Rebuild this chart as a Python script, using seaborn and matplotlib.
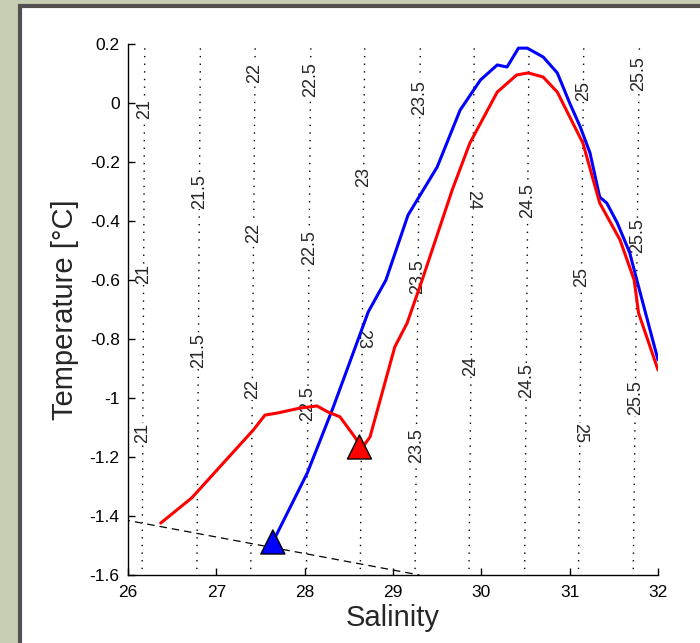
import numpy as np
import pandas as pd
import matplotlib
matplotlib.use("Agg")
import matplotlib.pyplot as plt
import seaborn as sns
from matplotlib.patches import Rectangle

# ---------------------------------------------------------------------------
# Data
# ---------------------------------------------------------------------------

red_sal = [26.37, 26.72, 27.42, 27.55, 27.69, 27.95, 28.14, 28.26, 28.40, 28.55,
           28.65, 28.74, 29.02, 29.16, 29.33, 29.67, 29.87, 30.18, 30.40, 30.53,
           30.70, 30.86, 31.15, 31.34, 31.57, 31.73, 31.78, 32.00]
red_temp = [-1.424, -1.339, -1.108, -1.058, -1.051, -1.034, -1.027, -1.047, -1.064, -1.125,
            -1.169, -1.132, -0.827, -0.746, -0.600, -0.295, -0.136, 0.037, 0.095, 0.102,
            0.088, 0.037, -0.136, -0.339, -0.464, -0.600, -0.712, -0.905]

blue_sal = [27.64, 28.03, 28.32, 28.72, 28.92, 29.17, 29.50, 29.76, 29.99, 30.18,
            30.29, 30.32, 30.42, 30.52, 30.70, 30.86, 31.00, 31.12, 31.23, 31.34,
            31.42, 31.54, 31.68, 31.76, 32.00]
blue_temp = [-1.488, -1.254, -1.034, -0.708, -0.600, -0.380, -0.217, -0.024, 0.078, 0.129,
             0.122, 0.136, 0.186, 0.186, 0.156, 0.102, 0.000, -0.081, -0.169, -0.319,
             -0.339, -0.407, -0.508, -0.600, -0.871]

# start points (triangles)
start_sal = [27.64, 28.62]
start_temp = [-1.488, -1.166]
start_name = ["blue", "red"]

# freezing line
freeze_sal = [25.8, 29.3]
freeze_temp = [-1.404, -1.600]

# isopycnals: sigma level, salinity at top (T=0.2) and bottom (T=-1.6)
sigma_levels = [21, 21.5, 22, 22.5, 23, 23.5, 24, 24.5, 25, 25.5]
sigma_sal_top = [26.19, 26.82, 27.44, 28.07, 28.68, 29.31, 29.92, 30.54, 31.16, 31.79]
sigma_sal_bot = [26.16, 26.78, 27.39, 28.02, 28.63, 29.25, 29.86, 30.49, 31.10, 31.72]

# contour labels: level, temperature position, rotation
label_level = [21, 21, 21, 21.5, 21.5, 22, 22, 22, 22.5, 22.5, 22.5, 23, 23,
               23.5, 23.5, 23.5, 24, 24, 24.5, 24.5, 25, 25, 25, 25.5, 25.5, 25.5]
label_temp = [-0.02, -0.58, -1.12, -0.30, -0.84, 0.10, -0.44, -0.97, 0.08, -0.49, -1.02,
              -0.25, -0.80, 0.02, -0.59, -1.16, -0.33, -0.89, -0.33, -0.94, 0.04, -0.59, -1.12,
              0.10, -0.45, -1.00]
label_rot = [90, 90, 90, 90, 90, 90, 90, 90, 90, 90, 90, 90, 270,
             90, 90, 90, 270, 90, 90, 90, 90, 90, 270, 90, 90, 90]

# ---------------------------------------------------------------------------
# Plot
# ---------------------------------------------------------------------------

sns.set_style("white")
plt.rcParams["font.family"] = ["Liberation Sans", "DejaVu Sans"]

fig = plt.figure(figsize=(7.0, 6.43), dpi=100, facecolor="#c8ceb4")
panel = Rectangle((20 / 700, -0.01), 1.0, 1 - 6 / 643 + 0.01,
                  transform=fig.transFigure, facecolor="white",
                  edgecolor="#555050", linewidth=3)
panel.set_zorder(-10)
fig.patches.append(panel)
ax = fig.add_axes([128 / 700, 1 - 575 / 643, 530 / 700, 531 / 643])
ax.set_facecolor("white")

def sal_at(level, temp):
    i = sigma_levels.index(level)
    frac = (temp - (-1.6)) / 1.8
    return sigma_sal_bot[i] + frac * (sigma_sal_top[i] - sigma_sal_bot[i])

for i, lev in enumerate(sigma_levels):
    ax.plot([sigma_sal_bot[i], sigma_sal_top[i]], [-1.58, 0.2], color="black",
            linestyle=(0, (1, 4.5)), linewidth=1.0, zorder=1)

for lev, t, rot in zip(label_level, label_temp, label_rot):
    txt = f"{lev:g}"
    ax.text(sal_at(lev, t), t, txt, rotation=rot, fontsize=13, ha="center", va="center",
            zorder=2, bbox=dict(facecolor="white", edgecolor="none", pad=0.2))

ax.plot(freeze_sal, freeze_temp, color="black", linestyle=(0, (6, 4)), linewidth=0.9, zorder=3)

red_df = pd.DataFrame({"sal": red_sal, "temp": red_temp})
blue_df = pd.DataFrame({"sal": blue_sal, "temp": blue_temp})
sns.lineplot(data=blue_df, x="sal", y="temp", sort=False, color="blue", linewidth=2.2,
             ax=ax, zorder=4)
sns.lineplot(data=red_df, x="sal", y="temp", sort=False, color="red", linewidth=2.2,
             ax=ax, zorder=5)

start_df = pd.DataFrame({"sal": start_sal, "temp": start_temp, "name": start_name})
sns.scatterplot(data=start_df, x="sal", y="temp", hue="name",
                palette={"blue": "blue", "red": "red"}, marker="^", s=300,
                edgecolor="black", linewidth=1.0, legend=False, ax=ax, zorder=6)

ax.set_xlim(26, 32)
ax.set_ylim(-1.6, 0.2)
ax.set_xticks([26, 27, 28, 29, 30, 31, 32])
ax.set_yticks([-1.6, -1.4, -1.2, -1, -0.8, -0.6, -0.4, -0.2, 0, 0.2])
ax.set_xticklabels(["26", "27", "28", "29", "30", "31", "32"])
ax.set_yticklabels(["-1.6", "-1.4", "-1.2", "-1", "-0.8", "-0.6", "-0.4", "-0.2", "0", "0.2"])
ax.tick_params(direction="in", length=5, width=1, labelsize=12.5, colors="black",
               bottom=True, left=True)
ax.tick_params(axis="x", pad=7)
ax.tick_params(axis="y", pad=6)
for side in ["top", "right"]:
    ax.spines[side].set_visible(False)
for side in ["left", "bottom"]:
    ax.spines[side].set_color("black")
    ax.spines[side].set_linewidth(1.0)

ax.set_xlabel("Salinity", fontsize=21, labelpad=3)
ax.set_ylabel("Temperature [°C]", fontsize=21, labelpad=8)

fig.savefig("out.png", dpi=100, facecolor=fig.get_facecolor())
